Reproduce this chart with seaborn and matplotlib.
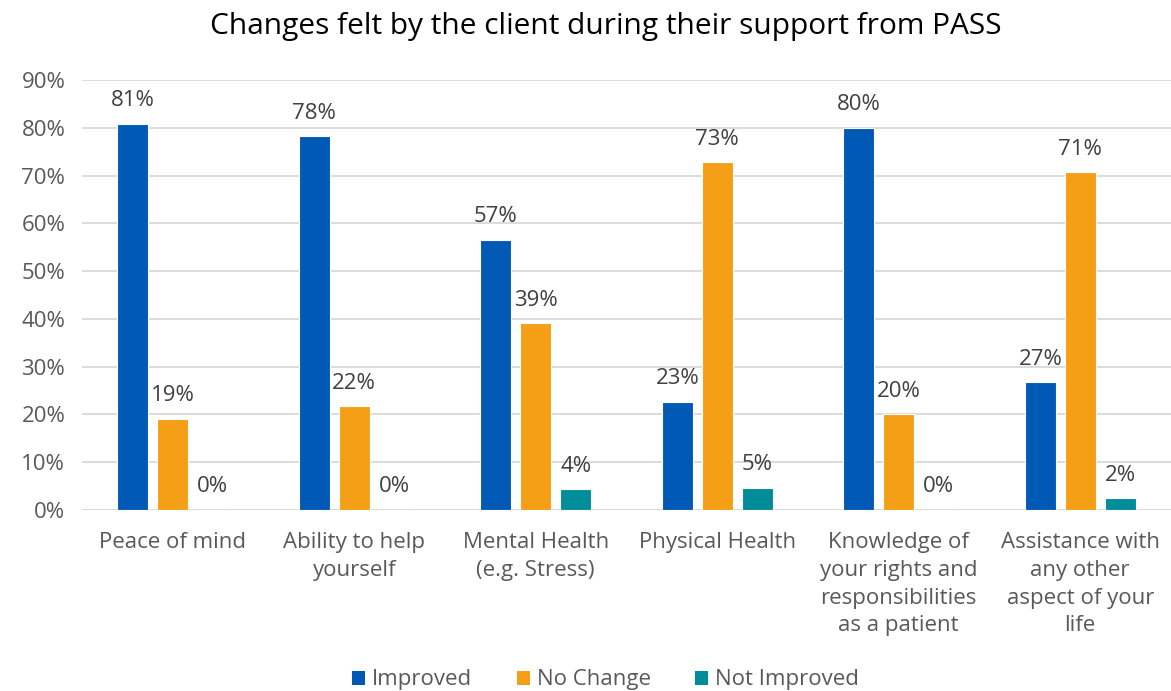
import matplotlib
matplotlib.use("Agg")
import matplotlib.pyplot as plt
from matplotlib.patches import Patch
import seaborn as sns
import pandas as pd

# Survey results (% of clients)
categories = [
    "Peace of mind",
    "Ability to help\nyourself",
    "Mental Health\n(e.g. Stress)",
    "Physical Health",
    "Knowledge of\nyour rights and\nresponsibilities\nas a patient",
    "Assistance with\nany other\naspect of your\nlife",
]
series = ["Improved", "No Change", "Not Improved"]
improved = [80.9, 78.3, 56.6, 22.7, 80.0, 26.7]
no_change = [19.1, 21.7, 39.1, 72.8, 20.0, 70.7]
not_improved = [0.0, 0.0, 4.3, 4.6, 0.0, 2.4]
colors = ["#005AB5", "#F49F16", "#008C99"]
yticks = [0, 10, 20, 30, 40, 50, 60, 70, 80, 90]

rows = []
for name, vals in zip(series, [improved, no_change, not_improved]):
    for cat, v in zip(categories, vals):
        rows.append({"category": cat, "series": name, "value": v})
df = pd.DataFrame(rows)

sns.set_theme(style="white")
plt.rcParams["font.family"] = ["Open Sans", "DejaVu Sans"]
text_col = "#595959"
fs = 16

fig = plt.figure(figsize=(11.71, 6.91), dpi=100)
ax = fig.add_axes([0.070, 0.262, 0.930, 0.622])

sns.barplot(
    data=df, x="category", y="value", hue="series", order=categories,
    hue_order=series, palette=colors, saturation=1, width=0.66, gap=0.23,
    edgecolor="white", linewidth=0.8, ax=ax, legend=False,
)

for cont in ax.containers:
    ax.bar_label(cont, labels=[f"{round(v):d}%" for v in cont.datavalues],
                 padding=9, fontsize=fs, color="#404040")

ax.set_ylim(0, 90)
ax.set_xlim(-0.5, len(categories) - 0.5)
ax.set_yticks(yticks)
ax.set_yticklabels([f"{t}%" for t in yticks], fontsize=fs, color=text_col)
ax.set_xticks(range(len(categories)))
ax.set_xticklabels(categories, fontsize=fs, color=text_col, linespacing=1.42)
ax.tick_params(axis="x", length=0, pad=16)
ax.tick_params(axis="y", length=0, pad=12)
ax.set_xlabel("")
ax.set_ylabel("")
ax.yaxis.grid(True, color="#D9D9D9", linewidth=1.3)
ax.set_axisbelow(True)
for s in ax.spines.values():
    s.set_visible(False)
ax.axhline(0, color="#D9D9D9", linewidth=1.3, zorder=0)

fig.text(0.517, 0.962, "Changes felt by the client during their support from PASS",
         ha="center", va="center", fontsize=21.5, color="#000000")

handles = [Patch(facecolor=c, edgecolor="none") for c in colors]
fig.legend(handles, series, loc="center", bbox_to_anchor=(0.517, 0.016),
           ncol=3, frameon=False, fontsize=fs, handlelength=0.6,
           handleheight=0.6, handletextpad=0.3, columnspacing=2.0,
           labelcolor=text_col)

fig.savefig("out.png", dpi=100)
